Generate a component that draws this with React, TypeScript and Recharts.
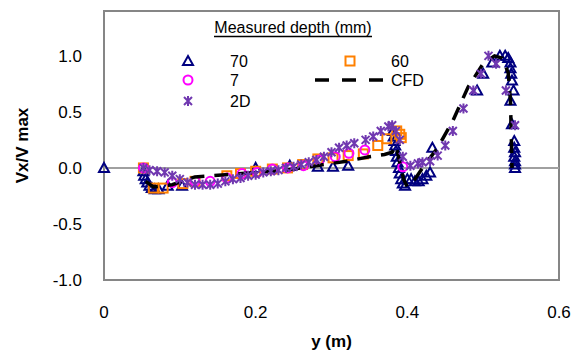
import React from 'react'
import { ScatterChart, Scatter, XAxis, YAxis, ReferenceLine, ReferenceArea, Legend } from 'recharts'

// axis ticks
const xTicks = [0, 0.2, 0.4, 0.6]
const yTicks = [-1, -0.5, 0, 0.5, 1]

// measured depth 70 mm  [y (m), Vx/Vmax]
const depth70: [number, number][] = [
  [0, 0], [0.052, -0.03], [0.053, -0.07], [0.055, -0.1], [0.057, -0.13], [0.06, -0.16],
  [0.063, -0.18], [0.067, -0.19], [0.072, -0.19], [0.084, -0.16], [0.103, -0.16],
  [0.2, 0.0], [0.245, 0.02], [0.282, 0.01], [0.302, 0.01], [0.322, 0.02],
  [0.381, 0.33], [0.382, 0.28], [0.383, 0.24], [0.384, 0.2], [0.385, 0.15], [0.386, 0.1],
  [0.387, 0.05], [0.389, 0.0], [0.39, -0.05], [0.392, -0.1], [0.394, -0.14], [0.397, -0.16],
  [0.4, -0.1], [0.405, -0.1], [0.41, -0.12], [0.415, -0.12], [0.42, -0.1], [0.425, -0.07],
  [0.43, -0.04], [0.433, 0.18],
  [0.492, 0.69], [0.5, 0.84], [0.512, 0.94], [0.522, 1.0], [0.529, 1.0], [0.533, 0.98],
  [0.536, 0.94], [0.536, 0.89], [0.537, 0.84], [0.538, 0.78], [0.54, 0.69], [0.536, 0.6],
  [0.538, 0.39], [0.541, 0.24], [0.541, 0.18], [0.542, 0.14], [0.541, 0.1], [0.542, 0.06],
  [0.542, 0.03], [0.542, 0.0],
]

// measured depth 60 mm
const depth60: [number, number][] = [
  [0.052, 0.0], [0.065, -0.18], [0.078, -0.18], [0.104, -0.14], [0.12, -0.12],
  [0.162, -0.07], [0.18, -0.05], [0.2, -0.03], [0.222, -0.01], [0.242, 0.0],
  [0.262, 0.03], [0.282, 0.08], [0.302, 0.09], [0.322, 0.11], [0.342, 0.125],
  [0.361, 0.2], [0.373, 0.26], [0.386, 0.33], [0.39, 0.3], [0.392, 0.27],
]

// measured depth 7 mm
const depth7: [number, number][] = [
  [0.052, 0.0], [0.09, -0.13], [0.12, -0.12], [0.14, -0.12], [0.162, -0.09],
  [0.182, -0.05], [0.202, -0.04], [0.222, -0.01], [0.242, 0.0], [0.263, 0.02],
  [0.284, 0.07], [0.305, 0.1], [0.323, 0.13], [0.344, 0.16], [0.394, 0.01],
]

// 2D measurement
const depth2D: [number, number][] = [
  [0.052, 0.0], [0.06, -0.02], [0.07, -0.03], [0.08, -0.04], [0.09, -0.07], [0.1, -0.1],
  [0.11, -0.13], [0.12, -0.15], [0.13, -0.15], [0.14, -0.15], [0.15, -0.14], [0.16, -0.12],
  [0.17, -0.1], [0.18, -0.09], [0.19, -0.07], [0.2, -0.06], [0.21, -0.04], [0.22, -0.03],
  [0.23, -0.02], [0.24, 0.0], [0.25, 0.01], [0.26, 0.03], [0.27, 0.05], [0.28, 0.07],
  [0.29, 0.1], [0.3, 0.14], [0.31, 0.18], [0.32, 0.2], [0.33, 0.22], [0.345, 0.25],
  [0.355, 0.28], [0.365, 0.33], [0.375, 0.37], [0.38, 0.38], [0.385, 0.33], [0.39, 0.25],
  [0.394, 0.1], [0.404, 0.02], [0.414, 0.04], [0.42, 0.05], [0.43, 0.06], [0.44, 0.11],
  [0.45, 0.2], [0.46, 0.33], [0.474, 0.53], [0.487, 0.69], [0.497, 0.84], [0.507, 1.0],
  [0.517, 0.93], [0.53, 0.69], [0.542, 0.38],
]

// CFD profile
const cfd: [number, number][] = [
  [0.055, -0.12], [0.065, -0.17], [0.09, -0.15], [0.12, -0.08], [0.16, -0.06], [0.2, -0.04],
  [0.24, -0.02], [0.28, 0.02], [0.32, 0.06], [0.35, 0.1], [0.37, 0.12], [0.38, 0.14],
  [0.385, 0.2], [0.39, 0.05], [0.395, -0.1], [0.4, -0.17], [0.41, -0.1], [0.42, 0.0],
  [0.44, 0.18], [0.46, 0.42], [0.48, 0.72], [0.5, 0.93], [0.515, 1.0], [0.525, 0.98],
  [0.533, 0.85], [0.536, 0.6], [0.537, 0.3], [0.538, 0.0],
]

const toPoints = (rows: [number, number][]) => rows.map(([x, y]) => ({ x, y }))

const FONT = '"Liberation Sans", Arial, sans-serif'
const NAVY = '#000080'
const ORANGE = '#FF8000'
const MAGENTA = '#FF00FF'
const PURPLE = '#7038B0'

const Triangle = ({ cx, cy }: any) => (
  <path d={`M${cx},${cy - 5}L${cx + 5},${cy + 4}L${cx - 5},${cy + 4}Z`}
    fill="none" stroke={NAVY} strokeWidth={2} />
)
const Square = ({ cx, cy }: any) => (
  <rect x={cx - 4.5} y={cy - 4.5} width={9} height={9} fill="none" stroke={ORANGE} strokeWidth={2} />
)
const Circle = ({ cx, cy }: any) => (
  <circle cx={cx} cy={cy} r={4.5} fill="none" stroke={MAGENTA} strokeWidth={2} />
)
const Star = ({ cx, cy }: any) => (
  <path d={`M${cx - 4},${cy - 4}L${cx + 4},${cy + 4}M${cx + 4},${cy - 4}L${cx - 4},${cy + 4}M${cx},${cy - 5}L${cx},${cy + 5}`}
    stroke={PURPLE} strokeWidth={2} fill="none" />
)
const NoDot = () => <g />

const LegendBox = () => (
  <svg width={577} height={120} style={{ display: 'block' }}>
    <g fontFamily={FONT} fontSize={16} fill="#000">
      <text x={293} y={33} textAnchor="middle">Measured depth (mm)</text>
      <line x1={214} x2={372} y1={36.5} y2={36.5} stroke="#000" strokeWidth={1.5} />
      <Triangle cx={188} cy={61} />
      <text x={230} y={67}>70</text>
      <Circle cx={188} cy={80} />
      <text x={230} y={86}>7</text>
      <Star cx={188} cy={101} />
      <text x={230} y={107}>2D</text>
      <Square cx={350} cy={61} />
      <text x={391} y={67}>60</text>
      <line x1={315} x2={385} y1={80} y2={80} stroke="#000" strokeWidth={3.5} strokeDasharray="14 13" />
      <text x={391} y={86}>CFD</text>
    </g>
  </svg>
)

const App: React.FC = () => {
  const tickStyle = { fontSize: 17, fill: '#000', fontFamily: FONT }
  return (
    <div style={{ position: 'absolute', left: 0, top: 0 }}>
      <ScatterChart width={577} height={351} margin={{ top: 11, right: 18, bottom: 0, left: 0 }}>
        <XAxis
          type="number"
          dataKey="x"
          domain={[0, 0.6]}
          ticks={xTicks}
          height={71}
          axisLine={false}
          tickLine={false}
          tickSize={0}
          tickMargin={26}
          tick={tickStyle}
          tickFormatter={(v: number) => (v === 0 ? '0' : v.toFixed(1))}
          label={{
            content: ({ viewBox }: any) => (
              <text x={viewBox.x + viewBox.width / 2} y={viewBox.y + 67} textAnchor="middle"
                fontFamily={FONT} fontSize={17} fontWeight="bold" fill="#000">y (m)</text>
            ),
          }}
        />
        <YAxis
          type="number"
          dataKey="y"
          domain={[-1, 1.4]}
          ticks={yTicks}
          width={104}
          axisLine={false}
          tickLine={false}
          tickSize={0}
          tickMargin={22}
          tick={tickStyle}
          tickFormatter={(v: number) => v.toFixed(1)}
          label={{
            content: ({ viewBox }: any) => {
              const x = viewBox.x + 22
              const y = viewBox.y + viewBox.height / 2
              return (
                <text x={x} y={y} transform={`rotate(-90 ${x} ${y})`} textAnchor="middle" dominantBaseline="central"
                  fontFamily={FONT} fontSize={17} fontWeight="bold" fill="#000">Vx/V max</text>
              )
            },
          }}
        />
        <ReferenceArea x1={0} x2={0.6} y1={-1} y2={1.4} fill="none" stroke="#868686" strokeWidth={2} ifOverflow="visible" />
        <ReferenceLine y={0} stroke="#a0a0a0" strokeWidth={2} />
        <Legend layout="horizontal" verticalAlign="middle" align="center"
          wrapperStyle={{ top: 0, left: 0, width: 577, height: 120 }} content={() => <LegendBox />} />
        <Scatter name="70" data={toPoints(depth70)} shape={Triangle} isAnimationActive={false} />
        <Scatter name="60" data={toPoints(depth60)} shape={Square} isAnimationActive={false} />
        <Scatter name="7" data={toPoints(depth7)} shape={Circle} isAnimationActive={false} />
        <Scatter name="CFD" data={toPoints(cfd)} shape={NoDot} isAnimationActive={false}
          line={{ stroke: '#000', strokeWidth: 3.5, strokeDasharray: '14 10' }} />
        <Scatter name="2D" data={toPoints(depth2D)} shape={Star} isAnimationActive={false} />
      </ScatterChart>
    </div>
  )
}

export default App
